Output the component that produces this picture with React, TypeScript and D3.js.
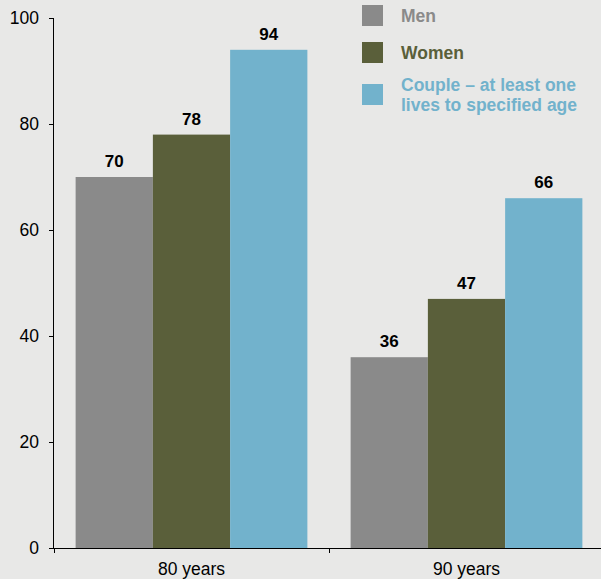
import React from "react";
import * as d3 from "d3";

const categories = ["80 years", "90 years"];
const seriesNames = ["Men", "Women", "Couple – at least one|lives to specified age"];
const men = [70, 36];
const women = [78, 47];
const couple = [94, 66];
const yTicks = [0, 20, 40, 60, 80, 100];
const colors = ["#8a8a8a", "#5a5f3a", "#72b2cc"];

const W = 601;
const H = 579;
const FONT = "Liberation Sans, Arial, Helvetica, sans-serif";

export default function App() {
  const x0 = d3.scaleBand<string>().domain(categories).range([54, 604]).paddingInner(0).paddingOuter(0);
  const x1 = d3.scaleBand<string>().domain(["0", "1", "2"]).range([0, x0.bandwidth()]).paddingOuter(0.28).paddingInner(0);
  const y = d3.scaleLinear().domain([0, 100]).range([548, 18]);
  const series = [men, women, couple];

  return (
    <svg width={W} height={H} style={{ position: "absolute", left: 0, top: 0, background: "#e8e8e7" }} fontFamily={FONT}>
      <rect x={0} y={0} width={W} height={H} fill="#e8e8e7" />
      {categories.map((c, ci) =>
        series.map((s, si) => {
          const bx = (x0(c) ?? 0) + (x1(String(si)) ?? 0);
          const bw = x1.bandwidth();
          return (
            <g key={c + si}>
              <rect x={bx} y={y(s[ci])} width={bw} height={y(0) - y(s[ci])} fill={colors[si]} />
              <text x={bx + bw / 2} y={y(s[ci]) - 10} textAnchor="middle" fontSize={17} fontWeight="bold" fill="#000">
                {s[ci]}
              </text>
            </g>
          );
        })
      )}
      {/* y axis */}
      <line x1={53.5} x2={53.5} y1={y(100)} y2={y(0)} stroke="#000" strokeWidth={1} />
      {yTicks.map((t) => (
        <g key={t}>
          <line x1={49} x2={53.5} y1={Math.round(y(t)) + 0.5} y2={Math.round(y(t)) + 0.5} stroke="#000" />
          <text x={39} y={y(t)} dy="0.35em" textAnchor="end" fontSize={17.5} fill="#000">
            {t}
          </text>
        </g>
      ))}
      {/* x axis */}
      <line x1={49} x2={W} y1={548.5} y2={548.5} stroke="#000" strokeWidth={1} />
      {[54, x0(categories[1]) ?? 0].map((tx, i) => (
        <line key={i} x1={Math.round(tx) + 0.5} x2={Math.round(tx) + 0.5} y1={548.5} y2={553} stroke="#000" />
      ))}
      {categories.map((c) => (
        <text key={c} x={(x0(c) ?? 0) + x0.bandwidth() / 2} y={575} textAnchor="middle" fontSize={17.5} fill="#000">
          {c}
        </text>
      ))}
      {/* legend */}
      {seriesNames.map((n, i) => {
        const ys = [5, 42, 84][i];
        const lines = n.split("|");
        return (
          <g key={n}>
            <rect x={362} y={ys} width={21} height={21} fill={colors[i]} />
            {lines.map((l, li) => (
              <text key={li} x={401} y={ys + (lines.length > 1 ? 1 : 10.5) + li * 20} dy="0.35em" fontSize={17.5} fontWeight="bold" fill={colors[i]}>
                {l}
              </text>
            ))}
          </g>
        );
      })}
    </svg>
  );
}
